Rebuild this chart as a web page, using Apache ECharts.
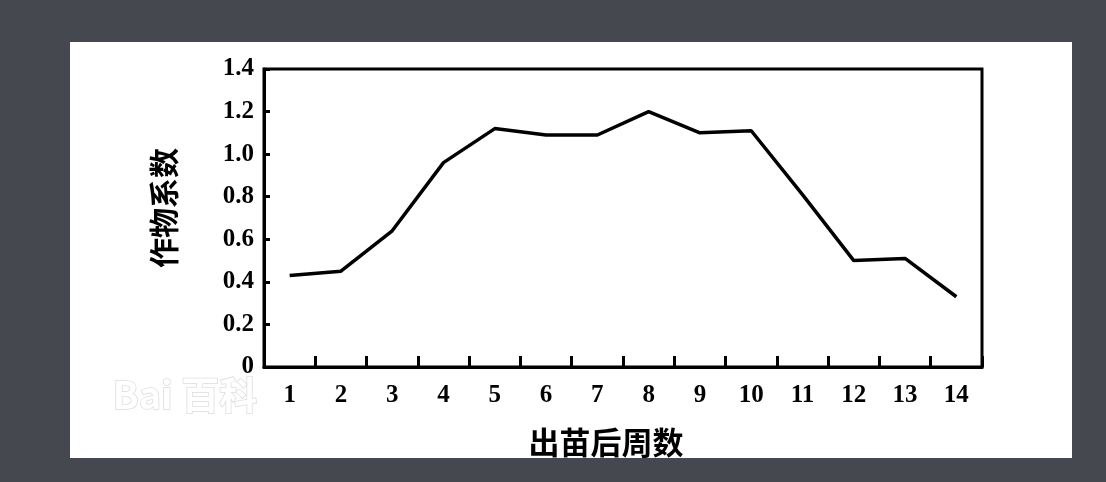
<!DOCTYPE html>
<html>
<head>
<meta charset="utf-8">
<script src="https://cdn.jsdelivr.net/npm/echarts@6/dist/echarts.min.js"></script>
<style>
  html, body { margin: 0; padding: 0; width: 1106px; height: 482px; background: #45484f; overflow: hidden; }
  #panel { position: absolute; left: 70px; top: 42px; width: 1002px; height: 416px; background: #ffffff; overflow: hidden; }
  #chart { width: 1002px; height: 416px; }
</style>
</head>
<body>
<div id="panel"><div id="chart"></div></div>
<script>
const weeks = ['1','2','3','4','5','6','7','8','9','10','11','12','13','14'];
const cropCoef = [0.43, 0.45, 0.64, 0.96, 1.12, 1.09, 1.09, 1.20, 1.10, 1.11, 0.81, 0.50, 0.51, 0.33];
const yMin = 0, yMax = 1.4, yStep = 0.2;
const xName = '出苗后周数';
const yName = '作物系数';

const serif = '"Liberation Serif", "DejaVu Serif", serif';
const cjk = '"Noto Sans CJK SC", sans-serif';

const chart = echarts.init(document.getElementById('chart'));
chart.setOption({
  animation: false,
  backgroundColor: '#ffffff',
  grid: {
    left: 194, right: 90, top: 27, bottom: 91,
    outerBoundsMode: 'none', containLabel: false,
    show: true, borderColor: '#000', borderWidth: 3, backgroundColor: 'transparent'
  },
  graphic: [{
    type: 'text', left: 42, top: 333, silent: true,
    style: { text: 'Bai 百科', fill: '#ffffff', stroke: '#dcdcdc', lineWidth: 1.5, font: 'bold 38px "Noto Sans CJK SC", sans-serif' }
  }],
  xAxis: {
    type: 'category',
    data: weeks,
    boundaryGap: true,
    name: xName,
    nameLocation: 'middle',
    nameGap: 60,
    nameTextStyle: { fontFamily: cjk, fontWeight: 'bold', fontSize: 31, color: '#000', padding: [0, 34, 0, 0] },
    axisLine: { lineStyle: { color: '#000', width: 3 } },
    axisTick: { show: true, inside: true, length: 11, lineStyle: { color: '#000', width: 3 } },
    axisLabel: { interval: 0, margin: 16, fontFamily: serif, fontWeight: 'bold', fontSize: 25, color: '#000' },
    splitLine: { show: false }
  },
  yAxis: {
    type: 'value',
    min: yMin, max: yMax, interval: yStep,
    name: yName,
    nameLocation: 'middle',
    nameRotate: 90,
    nameGap: 85,
    nameTextStyle: { fontFamily: cjk, fontWeight: 'bold', fontSize: 30, color: '#000', padding: [0, 0, 0, 20] },
    axisLine: { show: true, lineStyle: { color: '#000', width: 3 } },
    axisTick: { show: true, inside: true, length: 6, lineStyle: { color: '#000', width: 3 } },
    axisLabel: {
      margin: 10, fontFamily: serif, fontWeight: 'bold', fontSize: 25, color: '#000',
      formatter: v => (v === 0 ? '0' : v.toFixed(1))
    },
    splitLine: { show: false }
  },
  series: [{
    type: 'line',
    data: cropCoef,
    symbol: 'none',
    lineStyle: { color: '#000', width: 3.5 }
  }]
});
</script>
</body>
</html>
